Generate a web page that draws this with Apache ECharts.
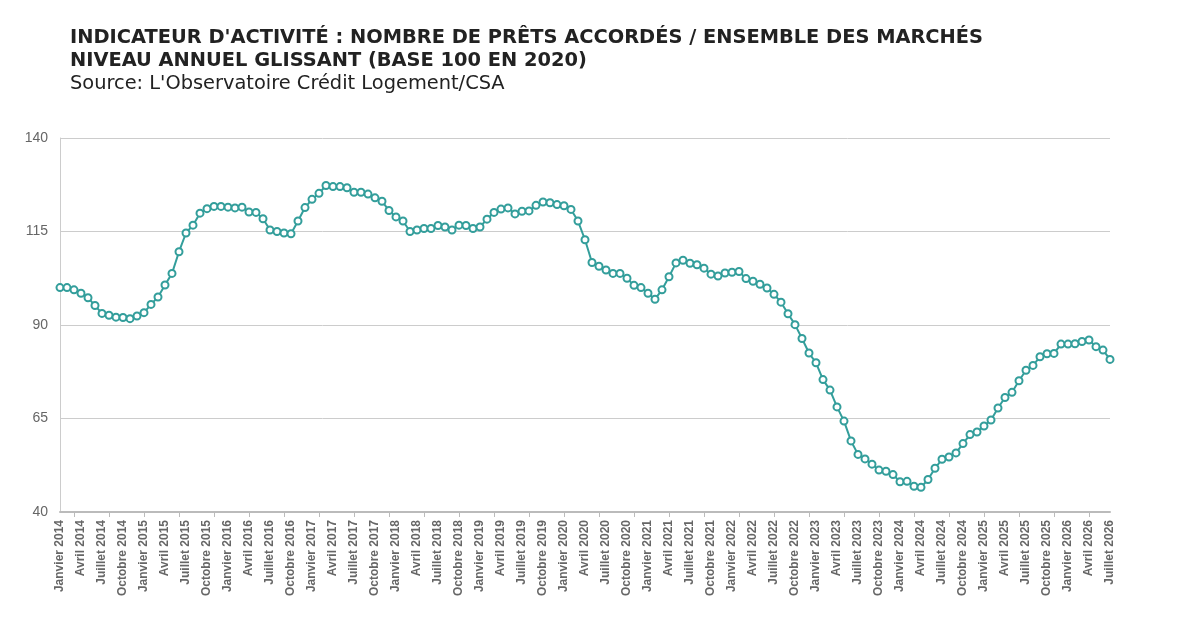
<!DOCTYPE html>
<html>
<head>
<meta charset="utf-8">
<script src="https://cdn.jsdelivr.net/npm/echarts@6/dist/echarts.min.js"></script>
<style>
  html, body { margin: 0; padding: 0; background: #fff; }
  #chart { width: 1200px; height: 638px; }
</style>
</head>
<body>
<div id="chart"></div>
<script>
// libellés des mois (un point par mois, janvier 2014 -> juillet 2026)
var monthNames = ["Janvier", "Février", "Mars", "Avril", "Mai", "Juin",
  "Juillet", "Août", "Septembre", "Octobre", "Novembre", "Décembre"];
var firstYear = 2014;
var lastYear = 2026;
var lastMonth = 7;

// indice base 100 en 2020, niveau annuel glissant
var values2014_2015 = [
  100.0, 100.0, 99.4, 98.5, 97.3, 95.2, 93.1, 92.6, 92.1, 92.0, 91.7, 92.4,
  93.3, 95.5, 97.5, 100.7, 103.8, 109.6, 114.6, 116.7, 119.9, 121.1, 121.7, 121.7
];
var values2016_2017 = [
  121.5, 121.3, 121.5, 120.2, 120.1, 118.4, 115.4, 115.0, 114.6, 114.4, 117.8, 121.4,
  123.6, 125.2, 127.3, 127.0, 127.0, 126.7, 125.5, 125.5, 125.0, 124.0, 123.1, 120.6
];
var values2018_2019 = [
  118.9, 117.8, 115.0, 115.4, 115.8, 115.8, 116.6, 116.2, 115.4, 116.7, 116.6, 115.8,
  116.2, 118.3, 120.1, 121.0, 121.3, 119.7, 120.4, 120.5, 122.0, 122.9, 122.7, 122.2
];
var values2020_2021 = [
  121.9, 120.9, 117.8, 112.8, 106.7, 105.7, 104.7, 103.8, 103.8, 102.5, 100.6, 100.0,
  98.5, 96.9, 99.4, 102.9, 106.6, 107.3, 106.5, 106.1, 105.2, 103.6, 103.1, 103.9
];
var values2022_2023 = [
  104.1, 104.3, 102.4, 101.7, 100.9, 99.9, 98.2, 96.1, 93.0, 90.1, 86.4, 82.5,
  79.9, 75.4, 72.6, 68.1, 64.3, 59.0, 55.4, 54.2, 52.8, 51.2, 50.9, 50.0
];
var values2024_2026 = [
  48.1, 48.2, 46.9, 46.6, 48.7, 51.7, 54.1, 54.7, 55.8, 58.3, 60.7, 61.4,
  63.0, 64.6, 67.8, 70.6, 72.0, 75.1, 77.9, 79.2, 81.5, 82.3, 82.4, 84.9,
  84.9, 85.0, 85.6, 86.0, 84.2, 83.3, 80.8
];

var yTicks = [40, 65, 90, 115, 140];

var categories = [];
for (var y = firstYear; y <= lastYear; y++) {
  for (var m = 0; m < 12; m++) {
    if (y === lastYear && m >= lastMonth) break;
    categories.push(monthNames[m] + " " + y);
  }
}
var values = [].concat(values2014_2015, values2016_2017, values2018_2019,
  values2020_2021, values2022_2023, values2024_2026);

var chart = echarts.init(document.getElementById("chart"));
var option = {
  animation: false,
  title: {
    text: "INDICATEUR D'ACTIVITÉ : NOMBRE DE PRÊTS ACCORDÉS / ENSEMBLE DES MARCHÉS\nNIVEAU ANNUEL GLISSANT (BASE 100 EN 2020)",
    subtext: "Source: L'Observatoire Crédit Logement/CSA",
    left: 65,
    top: 21,
    itemGap: 0,
    textStyle: {
      fontFamily: "DejaVu Sans",
      fontWeight: "bold",
      fontSize: 19.4,
      lineHeight: 23,
      color: "#222"
    },
    subtextStyle: {
      fontFamily: "DejaVu Sans",
      fontSize: 19.4,
      lineHeight: 23,
      color: "#222"
    }
  },
  grid: {
    left: 60,
    right: 90,
    top: 138,
    bottom: 126
  },
  xAxis: {
    type: "category",
    data: categories,
    boundaryGap: false,
    axisLine: { lineStyle: { color: "#bbb", width: 2 } },
    axisTick: {
      length: 5,
      lineStyle: { color: "#bbb" },
      interval: function (index) { return index % 5 === 2; }
    },
    axisLabel: {
      rotate: 90,
      margin: 8,
      interval: function (index) { return index % 3 === 0; },
      fontFamily: "Liberation Sans",
      fontWeight: "bold",
      fontSize: 12,
      color: "#666"
    },
    splitLine: { show: false }
  },
  yAxis: {
    type: "value",
    min: yTicks[0],
    max: yTicks[yTicks.length - 1],
    interval: 25,
    axisLine: { show: true, lineStyle: { color: "#ccc" } },
    axisTick: { show: false },
    axisLabel: {
      margin: 12,
      fontFamily: "Liberation Sans",
      fontSize: 14,
      color: "#666"
    },
    splitLine: { lineStyle: { color: "#ccc" } }
  },
  series: [
    {
      name: "Nombre de prêts accordés",
      type: "line",
      data: values,
      symbol: "circle",
      symbolSize: 7,
      showAllSymbol: true,
      lineStyle: { color: "#339e9b", width: 2 },
      itemStyle: { color: "#fff", borderColor: "#339e9b", borderWidth: 2 }
    }
  ]
};
chart.setOption(option);

window.addEventListener("resize", function () {
  chart.resize();
});
</script>
</body>
</html>
